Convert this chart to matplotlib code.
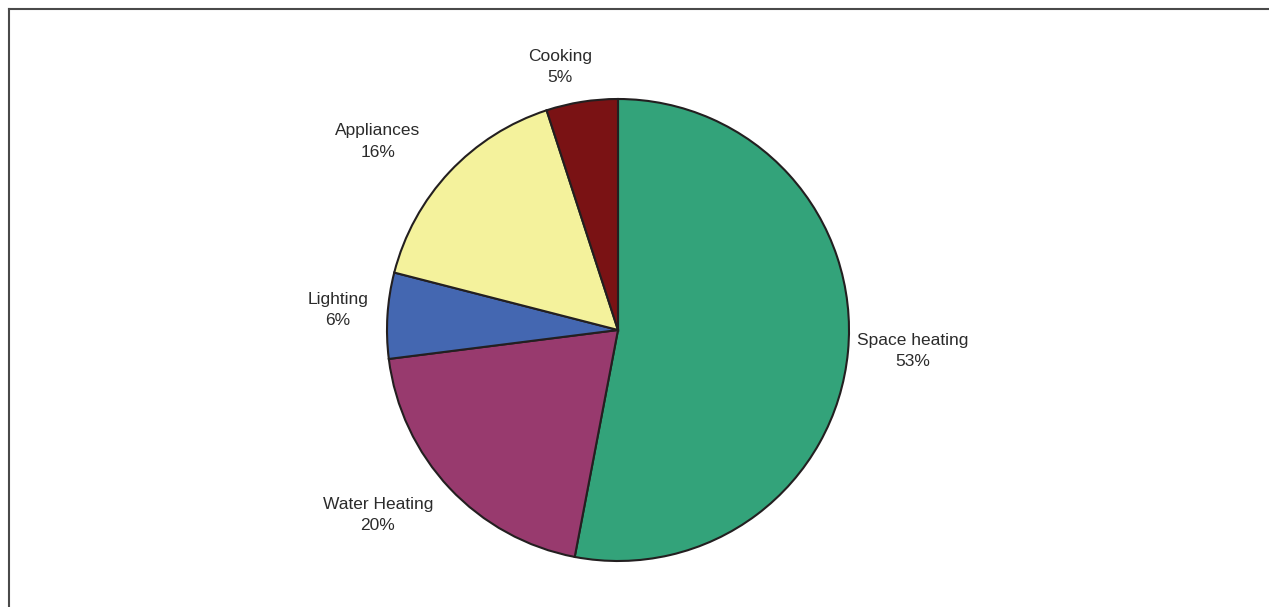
from matplotlib import pyplot as plt
from matplotlib.lines import Line2D

# data
categories = ["Space heating", "Water Heating", "Lighting", "Appliances", "Cooking"]
shares = [53, 20, 6, 16, 5]
colors = ["#33a37a", "#983a6e", "#4467b1", "#f4f29c", "#7a1214"]

# label centres in data units (pie radius = 1)
label_pos = [(1.277, -0.091), (-1.039, -0.801), (-1.212, 0.087),
             (-1.039, 0.816), (-0.251, 1.138)]

plt.rcParams['font.family'] = ['Liberation Sans', 'DejaVu Sans']

fig = plt.figure(figsize=(12.69, 6.07), dpi=100)
ax = fig.add_axes([0, 0, 1, 1])

ax.pie(shares, colors=colors, startangle=90, counterclock=False,
       radius=1.0, center=(0, 0),
       wedgeprops=dict(edgecolor="#231f20", linewidth=1.5))

for name, val, (x, y) in zip(categories, shares, label_pos):
    ax.text(x, y, "%s\n%d%%" % (name, val), ha="center", va="center",
            fontsize=12.5, color="#2b2b2b", linespacing=1.55)

# 1 data unit = 231 px, pie centre at (618, 330) px
ax.set_xlim(-618 / 231, (1269 - 618) / 231)
ax.set_ylim((330 - 607) / 231, 330 / 231)
ax.set_aspect("auto")
ax.axis("off")

# frame on top and left edge
fig.add_artist(Line2D([8.5 / 1269, 1], [1 - 8.5 / 607, 1 - 8.5 / 607],
                      transform=fig.transFigure, color="#4a4a4a", lw=1.5))
fig.add_artist(Line2D([8.5 / 1269, 8.5 / 1269], [0, 1 - 8.5 / 607],
                      transform=fig.transFigure, color="#4a4a4a", lw=1.5))

plt.savefig("out.png", dpi=100)
plt.close(fig)
